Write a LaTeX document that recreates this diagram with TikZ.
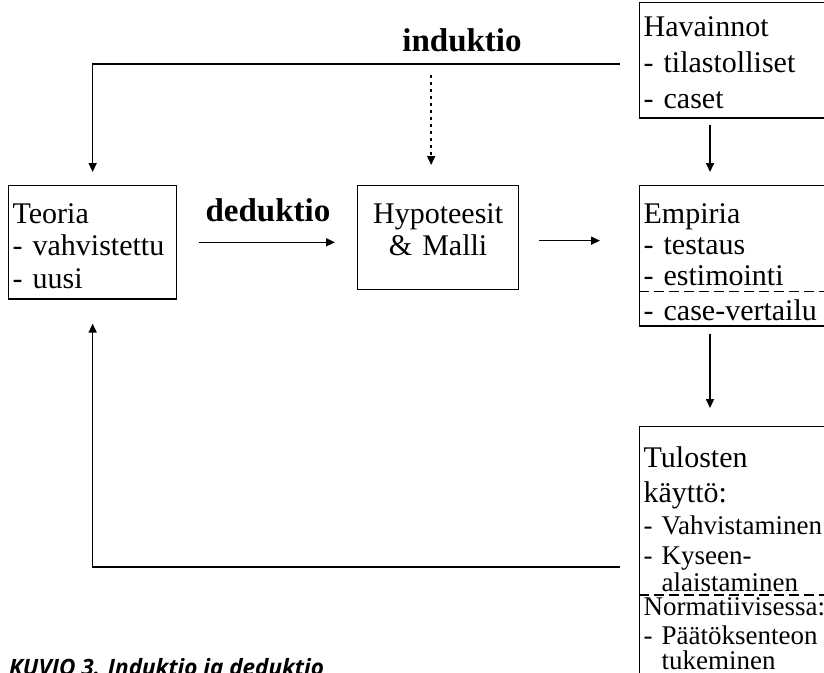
\documentclass[tikz,border=0pt]{standalone}
\usepackage{fontspec}
\setmainfont{Liberation Serif}
\newfontfamily\capfont{Open Sans}
\usetikzlibrary{arrows.meta}

\begin{document}
\begin{tikzpicture}[x=1pt, y=-1pt,
  box/.style={draw, line width=1.3pt, anchor=north west, align=left, inner xsep=4pt},
  arr/.style={-{Triangle[width=8pt,length=9pt]}, line width=1.6pt},
  sep/.style={line width=1.3pt, dash pattern=on 10pt off 5pt},
  lbl/.style={anchor=base, inner sep=0pt, font=\fontsize{33}{36}\selectfont\bfseries}]
\useasboundingbox (0,0) rectangle (824,672);
\clip (0,0) rectangle (824,672);

% boxes
\node[box, text width=190pt, inner ysep=9.5pt, font=\fontsize{30}{36}\selectfont] (hav) at (639,2)
  {\rule{0pt}{24pt}Havainnot\\- tilastolliset\\- caset};
\node[box, text width=160pt, inner ysep=10.25pt, font=\fontsize{30}{32.5}\selectfont] (teo) at (8,185)
  {\rule{0pt}{27.5pt}Teoria\\- vahvistettu\\- uusi};
\node[box, text width=153pt, align=center, inner ysep=8pt, font=\fontsize{30}{32}\selectfont] (hyp) at (357,185)
  {\rule{0pt}{29.5pt}Hypoteesit\\\& Malli\rule[-26.5pt]{0pt}{26.5pt}};
\node[box, text width=190pt, inner ysep=5.5pt, font=\fontsize{30}{31}\selectfont] (emp) at (639,185)
  {\rule{0pt}{32pt}Empiria\\- testaus\\- estimointi\\[4pt]- case-vertailu};
\node[box, text width=190pt, inner ysep=10pt, font=\fontsize{27}{27}\selectfont] (tul) at (639,426)
  {\rule{0pt}{30.5pt}{\fontsize{30}{27}\selectfont Tulosten}\\[8pt]{\fontsize{30}{27}\selectfont käyttö:}\\[5pt]
   - Vahvistaminen\\[3pt]- Kyseen-\\[0pt]\phantom{- }alaistaminen\\[-3pt]Normatiivisessa:\\[2pt]
   - Päätöksenteon\\[-2pt]\phantom{- }tukeminen\\[10pt]~};
\draw[sep] ([yshift=-106.5pt]emp.north west) -- ([yshift=-106.5pt]emp.north east);
\draw[sep] ([yshift=-169pt]tul.north west) -- ([yshift=-169pt]tul.north east);

% labels
\node[lbl] (ind) at (462,51) {induktio};
\node[lbl] (ded) at (268,221) {deduktio};

% connectors
\draw[arr, shorten >=13pt] ([shift={(-19pt,-3.5pt)}]hav.west) -| (teo.north);
\draw[arr, line width=1.4pt, dash pattern=on 3pt off 4pt]
  ([shift={(-7pt,110pt)}]hyp.north) -- ([shift={(-7pt,20pt)}]hyp.north);
\draw[arr] ([xshift=22pt]teo.east) -- ([xshift=-22pt]teo.east -| hyp.west);
\draw[arr] ([shift={(20pt,-3pt)}]hyp.east) -- ([shift={(-39pt,-3pt)}]hyp.east -| emp.west);
\draw[arr] ([shift={(71pt,-6pt)}]hav.south west) -- ([shift={(71pt,13pt)}]emp.north west);
\draw[arr] ([shift={(71pt,-7pt)}]emp.south west) -- ([shift={(71pt,18pt)}]tul.north west);
\draw[arr, shorten >=24pt] ([shift={(-19pt,-141pt)}]tul.north west) -| (teo.south);

% caption
\node[anchor=base west, inner sep=0pt, font=\capfont\fontsize{22.5}{22.5}\selectfont\bfseries\itshape]
  (cap) at (9,675) {KUVIO 3. Induktio ja deduktio};
\end{tikzpicture}
\end{document}
